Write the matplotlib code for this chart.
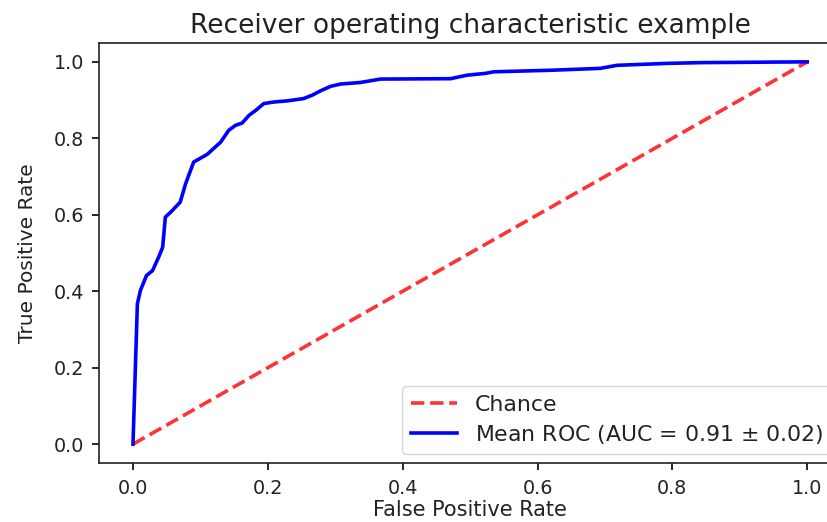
import matplotlib
matplotlib.use("Agg")
import matplotlib.pyplot as plt

fpr = [0, 0.0065, 0.011, 0.020, 0.029, 0.038, 0.044, 0.048, 0.056, 0.070, 0.078,
       0.090, 0.110, 0.130, 0.142, 0.152, 0.162, 0.172, 0.182, 0.194, 0.209, 0.229,
       0.253, 0.266, 0.278, 0.293, 0.308, 0.337, 0.367, 0.471, 0.495, 0.523, 0.535,
       0.619, 0.693, 0.718, 0.792, 0.842, 0.994, 1.0]
tpr = [0, 0.367, 0.402, 0.441, 0.454, 0.489, 0.515, 0.594, 0.607, 0.633, 0.681,
       0.738, 0.758, 0.790, 0.821, 0.834, 0.840, 0.860, 0.873, 0.891, 0.895, 0.898,
       0.904, 0.913, 0.924, 0.936, 0.942, 0.946, 0.955, 0.956, 0.965, 0.970, 0.974,
       0.978, 0.983, 0.991, 0.996, 0.998, 1.0, 1.0]
chance = [0, 1]
ticks = [0.0, 0.2, 0.4, 0.6, 0.8, 1.0]

fig = plt.figure(figsize=(8.28, 5.22), dpi=100)
ax = fig.add_axes([0.1199, 0.1125, 0.8957, 0.8056])
ax.plot(chance, chance, linestyle='--', lw=2.6, color='r', label='Chance', alpha=.8,
        dashes=(3.7, 1.6))
ax.plot(fpr, tpr, color='b', lw=2.6, label='Mean ROC (AUC = 0.91 $\\pm$ 0.02)', alpha=1)
ax.set_xlim(-0.05, 1.05)
ax.set_ylim(-0.05, 1.05)
ax.set_xticks(ticks)
ax.set_yticks(ticks)
ax.tick_params(labelsize=13.8, length=5, width=1.2, pad=6, labelcolor='#222222')
for s in ax.spines.values():
    s.set_linewidth(1.2)
    s.set_color('#222222')
ax.set_xlabel('False Positive Rate', fontsize=15, labelpad=2, color='#222222')
ax.set_ylabel('True Positive Rate', fontsize=14.5, labelpad=12, color='#222222')
ax.set_title('Receiver operating characteristic example', fontsize=19, pad=7,
             color='#222222')
leg = ax.legend(loc='lower right', fontsize=15.8, borderaxespad=0.4, handlelength=2.1,
                labelspacing=0.35)
for t in leg.get_texts():
    t.set_color('#222222')
fig.savefig('out.png', dpi=100)
